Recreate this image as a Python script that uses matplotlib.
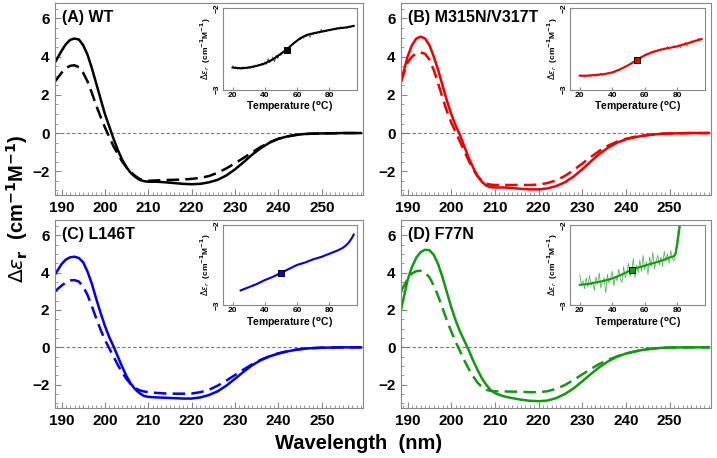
import numpy as np
import matplotlib
matplotlib.use("Agg")
import matplotlib.pyplot as plt
from matplotlib.ticker import MultipleLocator

plt.rcParams['font.family'] = ['Liberation Sans', 'DejaVu Sans']
plt.rcParams['mathtext.fontset'] = 'dejavusans'

# ---- CD spectra (wavelength, nm) ----
WL = [188.5, 190, 191, 192, 193, 194, 195, 196, 197, 198, 199, 200, 201, 202, 203, 204,
      205, 206, 207, 208, 209, 210, 212, 214, 216, 218, 220, 222, 224, 226, 228, 230,
      232, 234, 236, 238, 240, 242, 244, 246, 248, 250, 255, 259]

wt_solid = [3.7, 4.3, 4.65, 4.88, 4.95, 4.9, 4.6, 4.1, 3.4, 2.6, 1.8, 1.0, 0.35, -0.3, -0.9, -1.4,
            -1.8, -2.1, -2.3, -2.45, -2.52, -2.55, -2.55, -2.58, -2.62, -2.66, -2.68, -2.66, -2.58, -2.45, -2.22, -1.9,
            -1.52, -1.12, -0.78, -0.5, -0.3, -0.18, -0.1, -0.05, -0.03, -0.02, 0.0, 0.0]
wt_dash = [2.7, 3.15, 3.4, 3.52, 3.55, 3.45, 3.15, 2.7, 2.1, 1.45, 0.85, 0.3, -0.2, -0.7, -1.1, -1.5,
           -1.8, -2.05, -2.25, -2.4, -2.48, -2.5, -2.48, -2.46, -2.45, -2.43, -2.4, -2.35, -2.25, -2.08, -1.85, -1.58,
           -1.3, -1.0, -0.72, -0.48, -0.3, -0.18, -0.1, -0.05, -0.03, -0.02, 0.0, 0.0]

mv_solid = [2.7, 4.0, 4.6, 4.95, 5.05, 4.95, 4.6, 4.0, 3.3, 2.5, 1.7, 1.0, 0.4, -0.1, -0.7, -1.3,
            -1.8, -2.25, -2.55, -2.75, -2.83, -2.85, -2.85, -2.88, -2.92, -2.95, -2.95, -2.9, -2.78, -2.58, -2.28, -1.9,
            -1.48, -1.08, -0.75, -0.5, -0.33, -0.22, -0.14, -0.08, -0.04, -0.02, 0.0, 0.0]
mv_dash = [2.7, 3.7, 4.0, 4.18, 4.22, 4.15, 3.85, 3.3, 2.6, 1.85, 1.15, 0.55, 0.05, -0.45, -0.95, -1.45,
           -1.9, -2.25, -2.5, -2.65, -2.7, -2.72, -2.72, -2.72, -2.72, -2.72, -2.7, -2.62, -2.48, -2.25, -1.95, -1.6,
           -1.25, -0.92, -0.65, -0.45, -0.3, -0.2, -0.13, -0.08, -0.04, -0.02, 0.0, 0.0]

lt_solid = [3.9, 4.45, 4.7, 4.82, 4.85, 4.78, 4.55, 4.05, 3.4, 2.6, 1.85, 1.15, 0.55, 0.05, -0.5, -1.05,
            -1.55, -1.95, -2.25, -2.45, -2.6, -2.65, -2.68, -2.7, -2.72, -2.74, -2.74, -2.68, -2.55, -2.35, -2.05, -1.68,
            -1.3, -0.95, -0.68, -0.48, -0.33, -0.22, -0.13, -0.07, -0.04, -0.02, 0.0, 0.0]
lt_dash = [3.0, 3.3, 3.48, 3.58, 3.6, 3.52, 3.25, 2.8, 2.2, 1.55, 0.95, 0.4, -0.05, -0.5, -0.95, -1.35,
           -1.7, -1.98, -2.18, -2.3, -2.36, -2.4, -2.44, -2.47, -2.48, -2.48, -2.47, -2.4, -2.27, -2.05, -1.78, -1.48,
           -1.18, -0.9, -0.66, -0.47, -0.32, -0.21, -0.13, -0.07, -0.04, -0.02, 0.0, 0.0]

fn_solid = [2.0, 3.6, 4.3, 4.8, 5.1, 5.22, 5.2, 4.95, 4.45, 3.75, 2.95, 2.15, 1.45, 0.85, 0.35, -0.15,
            -0.7, -1.2, -1.65, -2.0, -2.28, -2.45, -2.62, -2.72, -2.8, -2.86, -2.88, -2.85, -2.72, -2.5, -2.2, -1.82,
            -1.42, -1.05, -0.74, -0.5, -0.33, -0.22, -0.13, -0.07, -0.03, -0.01, 0.0, 0.0]
fn_dash = [3.0, 3.65, 3.95, 4.08, 4.1, 4.0, 3.75, 3.3, 2.75, 2.1, 1.45, 0.85, 0.3, -0.2, -0.7, -1.15,
           -1.55, -1.88, -2.12, -2.27, -2.33, -2.35, -2.36, -2.37, -2.38, -2.4, -2.4, -2.35, -2.22, -2.02, -1.75, -1.45,
           -1.15, -0.88, -0.66, -0.48, -0.34, -0.22, -0.13, -0.07, -0.03, -0.01, 0.0, 0.0]

# ---- thermal melts (inset), temperature in C ----
wt_T = list(range(20, 96))
wt_raw = [-2.71, -2.74, -2.72, -2.75, -2.73, -2.74, -2.72, -2.75, -2.73, -2.74,
          -2.72, -2.74, -2.71, -2.73, -2.70, -2.72, -2.69, -2.71, -2.68, -2.70,
          -2.66, -2.69, -2.62, -2.67, -2.64, -2.60, -2.66, -2.58, -2.62, -2.57,
          -2.58, -2.55, -2.53, -2.54, -2.50, -2.49, -2.47, -2.45, -2.44, -2.42,
          -2.41, -2.38, -2.39, -2.36, -2.37, -2.34, -2.35, -2.32, -2.36, -2.31,
          -2.33, -2.30, -2.32, -2.29, -2.31, -2.26, -2.30, -2.28, -2.29, -2.27,
          -2.28, -2.26, -2.27, -2.25, -2.27, -2.24, -2.26, -2.23, -2.25, -2.24,
          -2.23, -2.25, -2.22, -2.24, -2.22, -2.21]
wt_fit_T = [20, 25, 30, 35, 40, 45, 50, 54, 58, 62, 66, 70, 75, 80, 85, 90, 95]
wt_fit = [-2.73, -2.74, -2.73, -2.71, -2.68, -2.63, -2.56, -2.5, -2.43, -2.37, -2.33, -2.31, -2.29, -2.27, -2.25, -2.24, -2.22]
wt_tm = (54, -2.51)

mv_T = list(range(20, 96))
mv_raw = [-2.82, -2.84, -2.83, -2.85, -2.82, -2.84, -2.81, -2.84, -2.83, -2.82,
          -2.84, -2.82, -2.83, -2.80, -2.83, -2.81, -2.82, -2.80, -2.81, -2.79,
          -2.80, -2.78, -2.79, -2.76, -2.77, -2.75, -2.74, -2.73, -2.72, -2.71,
          -2.70, -2.69, -2.67, -2.66, -2.65, -2.63, -2.62, -2.61, -2.59, -2.59,
          -2.57, -2.56, -2.55, -2.56, -2.53, -2.54, -2.52, -2.53, -2.51, -2.52,
          -2.50, -2.51, -2.49, -2.50, -2.47, -2.50, -2.48, -2.49, -2.46, -2.48,
          -2.47, -2.45, -2.49, -2.44, -2.46, -2.42, -2.47, -2.43, -2.44, -2.40,
          -2.42, -2.39, -2.41, -2.37, -2.40, -2.37]
mv_fit_T = [20, 25, 30, 35, 40, 45, 50, 55, 60, 65, 70, 75, 80, 85, 90, 95]
mv_fit = [-2.83, -2.83, -2.82, -2.81, -2.79, -2.75, -2.7, -2.64, -2.58, -2.54, -2.51, -2.49, -2.47, -2.44, -2.41, -2.38]
mv_tm = (55, -2.64)

lt_T = list(range(25, 96))
lt_raw = [-2.82, -2.81, -2.80, -2.80, -2.79, -2.78, -2.77, -2.77, -2.75, -2.75,
          -2.74, -2.73, -2.72, -2.71, -2.70, -2.69, -2.68, -2.68, -2.66, -2.66,
          -2.65, -2.63, -2.63, -2.61, -2.61, -2.60, -2.59, -2.58, -2.57, -2.56,
          -2.55, -2.54, -2.53, -2.52, -2.51, -2.50, -2.50, -2.49, -2.48, -2.47,
          -2.47, -2.46, -2.45, -2.44, -2.44, -2.43, -2.42, -2.42, -2.41, -2.40,
          -2.40, -2.39, -2.38, -2.37, -2.37, -2.36, -2.35, -2.34, -2.33, -2.33,
          -2.32, -2.31, -2.30, -2.29, -2.28, -2.26, -2.25, -2.22, -2.20, -2.16,
          -2.12]
lt_fit_T = [25, 30, 35, 40, 45, 50, 55, 60, 65, 70, 75, 80, 85, 88, 90, 92, 94, 95]
lt_fit = [-2.82, -2.78, -2.74, -2.69, -2.65, -2.6, -2.55, -2.5, -2.47, -2.43, -2.4, -2.36, -2.32, -2.29, -2.26, -2.22, -2.16, -2.12]
lt_tm = (50, -2.6)

fn_T = list(range(20, 83))
fn_raw = [-2.62, -2.74, -2.70, -2.80, -2.66, -2.78, -2.63, -2.76, -2.71, -2.82,
          -2.65, -2.74, -2.60, -2.79, -2.70, -2.66, -2.85, -2.62, -2.73, -2.68,
          -2.58, -2.76, -2.64, -2.70, -2.55, -2.68, -2.72, -2.52, -2.66, -2.60,
          -2.48, -2.64, -2.58, -2.42, -2.66, -2.50, -2.60, -2.44, -2.58, -2.38,
          -2.56, -2.46, -2.62, -2.40, -2.52, -2.34, -2.55, -2.45, -2.38, -2.50,
          -2.40, -2.52, -2.33, -2.46, -2.36, -2.48, -2.32, -2.42, -2.45, -2.30,
          -2.15, -1.98, -1.90]
fn_fit_T = [20, 25, 30, 35, 40, 45, 50, 55, 60, 65, 70, 75, 78, 79, 80, 81, 82]
fn_fit = [-2.75, -2.74, -2.72, -2.7, -2.67, -2.63, -2.58, -2.54, -2.51, -2.48, -2.45, -2.41, -2.39, -2.36, -2.25, -2.1, -1.95]
fn_tm = (52, -2.56)

panels = [
    ("(A) WT", "#000000", wt_solid, wt_dash, wt_T, wt_raw, wt_fit_T, wt_fit, wt_tm),
    ("(B) M315N/V317T", "#ee0000", mv_solid, mv_dash, mv_T, mv_raw, mv_fit_T, mv_fit, mv_tm),
    ("(C) L146T", "#0000ee", lt_solid, lt_dash, lt_T, lt_raw, lt_fit_T, lt_fit, lt_tm),
    ("(D) F77N", "#119911", fn_solid, fn_dash, fn_T, fn_raw, fn_fit_T, fn_fit, fn_tm),
]

axpos = [
    [0.0767, 0.574, 0.4296, 0.419],
    [0.5593, 0.574, 0.4324, 0.419],
    [0.0767, 0.109, 0.4296, 0.410],
    [0.5593, 0.109, 0.4324, 0.410],
]

fig = plt.figure(figsize=(7.17, 4.58), dpi=100)
spine_col = "#888888"

for pos, (title, col, solid, dash, T, raw, fT, fit, tm) in zip(axpos, panels):
    ax = fig.add_axes(pos)
    ax.axhline(0, color="#777777", lw=0.8, ls=(0, (3, 2)))
    ax.plot(WL, solid, color=col, lw=1.8)
    ax.plot(WL, dash, color=col, lw=1.8, ls=(0, (5, 2.5)))
    ax.set_xlim(188.5, 259.5)
    ax.set_ylim(-3.25, 6.8)
    ax.xaxis.set_major_locator(MultipleLocator(10))
    ax.xaxis.set_minor_locator(MultipleLocator(1))
    ax.yaxis.set_major_locator(MultipleLocator(2))
    ax.yaxis.set_minor_locator(MultipleLocator(0.5))
    ax.tick_params(which="both", direction="in", color=spine_col)
    ax.tick_params(which="major", length=4, labelsize=11, pad=4)
    ax.tick_params(which="minor", length=2)
    for lab in ax.get_xticklabels() + ax.get_yticklabels():
        lab.set_fontweight("bold")
    for sp in ax.spines.values():
        sp.set_color(spine_col)
    ax.text(0.022, 0.965, title, transform=ax.transAxes, fontsize=11.5,
            fontweight="bold", va="top", ha="left")

    ins = ax.inset_axes([0.545, 0.55, 0.435, 0.425])
    ins.plot(T, raw, color=col, lw=0.5, alpha=0.8)
    ins.plot(fT, fit, color=col, lw=1.5)
    ins.plot([tm[0]], [tm[1]], marker="s", ms=5, mfc=col, mec="black", mew=0.7)
    ins.set_xlim(14, 97)
    ins.set_ylim(-3, -2)
    ins.set_xticks([20, 40, 60, 80])
    ins.set_yticks([-3, -2])
    ins.tick_params(direction="in", length=2, labelsize=6, pad=1.5, color=spine_col)
    for lab in ins.get_xticklabels():
        lab.set_fontweight("bold")
    for lab in ins.get_yticklabels():
        lab.set_fontweight("bold")
        lab.set_rotation(90)
        lab.set_va("center")
    for sp in ins.spines.values():
        sp.set_color(spine_col)
    ins.set_xlabel("Temperature ($\\mathbf{^o}$C)", fontsize=7.5, fontweight="bold", labelpad=1)
    ins.set_ylabel("$\\Delta\\varepsilon_r$  (cm$^{\\mathbf{-1}}$M$^{\\mathbf{-1}}$)", fontsize=6,
                   fontweight="bold", labelpad=0.5)

fig.text(0.5, 0.012, "Wavelength  (nm)", ha="center", va="bottom", fontsize=14.5, fontweight="bold")
fig.text(0.024, 0.545, "$\\Delta\\varepsilon_\\mathbf{r}$  (cm$^{\\mathbf{-1}}$M$^{\\mathbf{-1}}$)", rotation=90,
         ha="center", va="center", fontsize=14.5, fontweight="bold")

fig.savefig("out.png", dpi=100)
